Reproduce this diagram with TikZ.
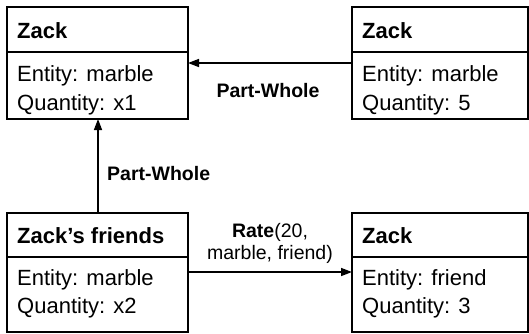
\documentclass[tikz,border=0pt]{standalone}
\usepackage{fontspec}
\setmainfont{Liberation Sans}
\usetikzlibrary{arrows.meta}
\begin{document}
\begin{tikzpicture}[x=1pt,y=-1pt,
  box/.style={draw,line width=1.8pt,rectangle,inner sep=0pt,outer sep=0pt,anchor=north west},
  txt/.style={anchor=base west,inner sep=0pt,font=\fontsize{22}{22}\selectfont},
  hdr/.style={anchor=base west,inner sep=0pt,font=\fontsize{22}{22}\selectfont\bfseries},
  lbl/.style={inner sep=0pt,anchor=base,font=\fontsize{19.5}{19.5}\selectfont},
  divline/.style={line width=1.8pt},
  conn/.style={line width=1.5pt,-{Triangle[length=11pt,width=8pt]}}]
\useasboundingbox (0,0) rectangle (529,333);
% boxes
\node[box,minimum width=181pt,minimum height=112pt] (A) at (7,7) {};
\node[box,minimum width=176pt,minimum height=112pt] (B) at (352,7) {};
\node[box,minimum width=181pt,minimum height=119pt] (C) at (7,213) {};
\node[box,minimum width=176pt,minimum height=119pt] (D) at (352,213) {};
% dividers
\draw[divline] (A.west |- 0,52) -- (A.east |- 0,52);
\draw[divline] (B.west |- 0,52) -- (B.east |- 0,52);
\draw[divline] (C.west |- 0,257) -- (C.east |- 0,257);
\draw[divline] (D.west |- 0,257) -- (D.east |- 0,257);
% texts A
\node[hdr] (Ah) at (17,38) {Zack};
\node[txt] (Ae) at (17,81) {Entity: marble};
\node[txt] (Aq) at (17,110) {Quantity: x1};
% texts B
\node[hdr] (Bh) at (362,38) {Zack};
\node[txt] (Be) at (362,81) {Entity: marble};
\node[txt] (Bq) at (362,110) {Quantity: 5};
% texts C
\node[hdr] (Ch) at (17,243) {Zack’s friends};
\node[txt] (Ce) at (17,285) {Entity: marble};
\node[txt] (Cq) at (17,313) {Quantity: x2};
% texts D
\node[hdr] (Dh) at (362,243) {Zack};
\node[txt] (De) at (362,285) {Entity: friend};
\node[txt] (Dq) at (362,313) {Quantity: 3};
% connectors
\draw[conn] (B.west |- 0,63) -- (A.east |- 0,63);
\draw[conn] (C.north -| 98,0) -- (A.south -| 98,0);
\draw[conn] (C.east |- 0,272) -- (D.west |- 0,272);
% labels
\node[lbl] (L1) at (268,97) {\bfseries Part-Whole};
\node[lbl,anchor=base west] (L2) at (107,180) {\bfseries Part-Whole};
\node[lbl] (L3a) at (270,237) {\textbf{Rate}(20,};
\node[lbl] (L3b) at (270,259) {marble, friend)};
\end{tikzpicture}
\end{document}
